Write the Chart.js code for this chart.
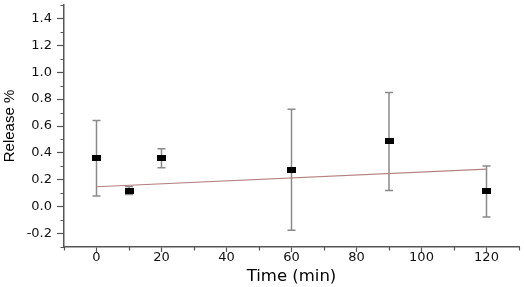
<!DOCTYPE html>
<html>
<head>
<meta charset="utf-8">
<script src="https://cdn.jsdelivr.net/npm/chart.js@4.4.0/dist/chart.umd.min.js"></script>
<style>
  html, body { margin: 0; padding: 0; background: #fff; }
  #wrap { width: 524px; height: 287px; position: relative; }
</style>
</head>
<body>
<div id="wrap"><canvas id="c" width="524" height="287"></canvas></div>
<script>
// ---- data ----
const times = [0, 10, 20, 60, 90, 120];            // min
const release = [0.36, 0.12, 0.36, 0.275, 0.485, 0.113]; // Release %
const errors = [0.28, 0.03, 0.07, 0.45, 0.365, 0.19];    // +/- error
const fitX = [0, 120];
const fitY = [0.148, 0.279];
const yMajorTicks = [-0.2, 0.0, 0.2, 0.4, 0.6, 0.8, 1.0, 1.2, 1.4];
const yMinorTicks = [-0.3, -0.1, 0.1, 0.3, 0.5, 0.7, 0.9, 1.1, 1.3, 1.5];
const xMajorTicks = [0, 20, 40, 60, 80, 100, 120];
const xMinorTicks = [-10, 10, 30, 50, 70, 90, 110, 130];

const AXIS = '#555555';
const ERR = '#8a8a8a';

// marker: small filled black rectangle
const marker = document.createElement('canvas');
marker.width = 9; marker.height = 6;
const mctx = marker.getContext('2d');
mctx.fillStyle = '#000';
mctx.fillRect(0, 0, 9, 6);

const errorBars = {
  id: 'errorBars',
  beforeDatasetsDraw(chart) {
    const { ctx, scales: { x, y } } = chart;
    ctx.save();
    ctx.strokeStyle = ERR;
    ctx.lineWidth = 1.5;
    times.forEach((t, i) => {
      const px = x.getPixelForValue(t);
      const top = y.getPixelForValue(release[i] + errors[i]);
      const bot = y.getPixelForValue(release[i] - errors[i]);
      ctx.beginPath();
      ctx.moveTo(px, top); ctx.lineTo(px, bot);
      ctx.moveTo(px - 4, top); ctx.lineTo(px + 4, top);
      ctx.moveTo(px - 4, bot); ctx.lineTo(px + 4, bot);
      ctx.stroke();
    });
    ctx.restore();
  },
  afterDraw(chart) {
    // minor ticks
    const { ctx, scales: { x, y } } = chart;
    ctx.save();
    ctx.strokeStyle = AXIS;
    ctx.lineWidth = 1.2;
    ctx.beginPath();
    const ax = x.left, ay = y.bottom;
    yMinorTicks.forEach(v => {
      const py = Math.round(y.getPixelForValue(v)) + 0.5;
      ctx.moveTo(ax - 3.5, py); ctx.lineTo(ax, py);
    });
    xMinorTicks.forEach(v => {
      const px = Math.round(x.getPixelForValue(v)) + 0.5;
      ctx.moveTo(px, ay); ctx.lineTo(px, ay + 3.5);
    });
    ctx.stroke();
    ctx.restore();
  }
};

new Chart(document.getElementById('c'), {
  type: 'scatter',
  data: {
    datasets: [
      {
        type: 'line',
        data: fitX.map((v, i) => ({ x: v, y: fitY[i] })),
        borderColor: '#b58080',
        borderWidth: 1.2,
        pointRadius: 0,
        fill: false,
        order: 2
      },
      {
        data: times.map((t, i) => ({ x: t, y: release[i] })),
        pointStyle: marker,
        pointRadius: 4,
        backgroundColor: '#000',
        borderColor: '#000',
        order: 1
      }
    ]
  },
  options: {
    responsive: false,
    animation: false,
    devicePixelRatio: 1,
    layout: { padding: { top: 3, right: 4, left: 0, bottom: 0 } },
    plugins: { legend: { display: false }, tooltip: { enabled: false } },
    scales: {
      x: {
        type: 'linear',
        min: -10, max: 130,
        afterFit: s => { s.height = 40; s.paddingLeft = 0; s.paddingRight = 0; },
        afterBuildTicks: s => { s.ticks = xMajorTicks.map(v => ({ value: v })); },
        grid: { display: true, drawOnChartArea: false, drawTicks: true, tickLength: 5, tickColor: AXIS, tickWidth: 1.2 },
        border: { display: true, color: AXIS, width: 1.5 },
        ticks: {
          color: '#111', padding: -2,
          font: { family: 'DejaVu Sans', size: 13 },
          callback: v => String(v)
        },
        title: {
          display: true, text: 'Time (min)', color: '#000',
          font: { family: 'DejaVu Sans', size: 16.5 },
          padding: { top: 0, bottom: 0 }
        }
      },
      y: {
        type: 'linear',
        min: -0.3, max: 1.5,
        afterFit: s => { s.width = 64; s.paddingTop = 0; s.paddingBottom = 0; },
        afterBuildTicks: s => { s.ticks = yMajorTicks.map(v => ({ value: v })); },
        grid: { display: true, drawOnChartArea: false, drawTicks: true, tickLength: 7, tickColor: AXIS, tickWidth: 1.2 },
        border: { display: true, color: AXIS, width: 1.5 },
        ticks: {
          color: '#111', padding: 5,
          font: { family: 'DejaVu Sans', size: 13 },
          callback: v => Number(v).toFixed(1)
        },
        title: {
          display: true, text: 'Release %', color: '#000',
          font: { family: 'Liberation Sans', size: 15 },
          padding: { top: 1, bottom: 0 }
        }
      }
    }
  },
  plugins: [errorBars]
});
</script>
</body>
</html>
